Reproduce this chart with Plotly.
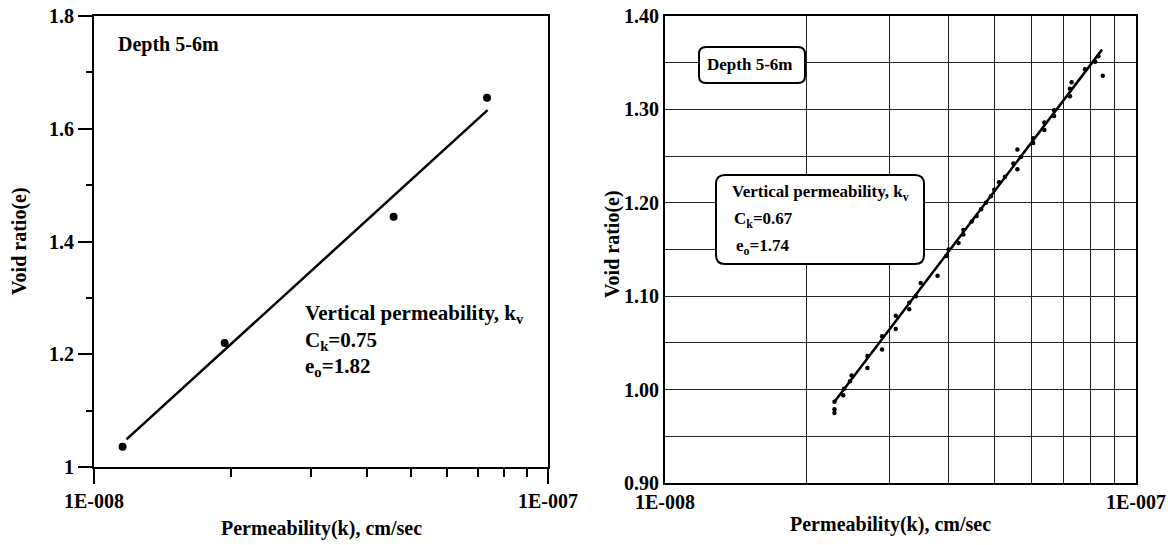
import plotly.graph_objects as go

W, H = 1176, 545

# ---------------- data ----------------
left_k = [1.156e-8, 1.94e-8, 4.57e-8, 7.34e-8]
left_e = [1.036, 1.220, 1.444, 1.655]
left_fit_k = [1.179e-8, 7.36e-8]
left_fit_e = [1.049, 1.633]

right_k = [2.29e-8, 2.29e-8, 2.29e-8, 2.39e-8, 2.40e-8, 2.49e-8, 2.47e-8, 2.69e-8, 2.69e-8,
           2.89e-8, 2.89e-8, 3.09e-8, 3.09e-8, 3.30e-8, 3.30e-8, 3.41e-8, 3.49e-8, 3.79e-8,
           3.96e-8, 4.00e-8, 4.20e-8, 4.30e-8, 4.30e-8, 4.48e-8, 4.59e-8, 4.69e-8, 4.80e-8,
           4.92e-8, 5.00e-8, 5.12e-8, 5.27e-8, 5.49e-8, 5.60e-8, 5.60e-8, 5.70e-8, 6.05e-8,
           6.05e-8, 6.39e-8, 6.39e-8, 6.70e-8, 6.70e-8, 7.24e-8, 7.24e-8, 7.30e-8, 7.79e-8,
           8.19e-8, 8.32e-8, 8.50e-8]
right_e = [0.987, 0.979, 0.975, 0.994, 1.001, 1.015, 1.009, 1.036, 1.023,
           1.057, 1.043, 1.079, 1.065, 1.093, 1.086, 1.100, 1.114, 1.122,
           1.143, 1.150, 1.157, 1.171, 1.166, 1.180, 1.186, 1.193, 1.200,
           1.207, 1.214, 1.222, 1.228, 1.242, 1.236, 1.257, 1.249, 1.269,
           1.264, 1.286, 1.278, 1.299, 1.293, 1.322, 1.314, 1.329, 1.343,
           1.351, 1.357, 1.336]
right_fit_k = [2.29e-8, 8.47e-8]
right_fit_e = [0.987, 1.364]

x_major = [1e-8, 1e-7]
x_major_text = ["1E-008", "1E-007"]
x_minor = [2e-8, 3e-8, 4e-8, 5e-8, 6e-8, 7e-8, 8e-8, 9e-8]
left_y_ticks = [1.0, 1.2, 1.4, 1.6, 1.8]
left_y_text = ["1", "1.2", "1.4", "1.6", "1.8"]
left_y_minor = [1.1, 1.3, 1.5, 1.7]
right_y_ticks = [0.9, 1.0, 1.1, 1.2, 1.3, 1.4]
right_y_text = ["0.90", "1.00", "1.10", "1.20", "1.30", "1.40"]
right_y_minor = [0.95, 1.05, 1.15, 1.25, 1.35]

FONT = "Liberation Serif"


def px(x):
    return x / W


def py(y):
    return 1 - y / H


fig = go.Figure()

fig.add_trace(go.Scatter(x=left_fit_k, y=left_fit_e, mode="lines",
                         line=dict(color="black", width=2.5), xaxis="x", yaxis="y",
                         showlegend=False))
fig.add_trace(go.Scatter(x=left_k, y=left_e, mode="markers",
                         marker=dict(color="black", size=8), xaxis="x", yaxis="y",
                         showlegend=False))
fig.add_trace(go.Scatter(x=right_fit_k, y=right_fit_e, mode="lines",
                         line=dict(color="black", width=2.5), xaxis="x2", yaxis="y2",
                         showlegend=False))
fig.add_trace(go.Scatter(x=right_k, y=right_e, mode="markers",
                         marker=dict(color="black", size=4.5), xaxis="x2", yaxis="y2",
                         showlegend=False))

tickfont = dict(family=FONT, size=20, color="black", weight="bold")
GRID = "#222222"

fig.update_layout(
    width=W, height=H,
    margin=dict(l=0, r=0, t=0, b=0, autoexpand=False),
    paper_bgcolor="white", plot_bgcolor="white",
    font=dict(family=FONT, color="black"),
    xaxis=dict(type="log", range=[-8, -7], domain=[px(94), px(548)], anchor="y",
               automargin=False,
               tickmode="array", tickvals=x_major, ticktext=x_major_text,
               ticks="outside", ticklen=15, tickwidth=2, tickcolor="black",
               showgrid=False, zeroline=False,
               showline=True, linecolor="black", linewidth=2, mirror=True,
               tickfont=tickfont,
               minor=dict(tickmode="array", tickvals=x_minor, ticks="outside",
                          ticklen=8, tickwidth=2, tickcolor="black", showgrid=False)),
    yaxis=dict(range=[1.0, 1.8], domain=[py(467), py(16)], anchor="x",
               automargin=False,
               tickmode="array", tickvals=left_y_ticks, ticktext=left_y_text,
               ticks="outside", ticklen=14, tickwidth=2, tickcolor="black",
               showgrid=False, zeroline=False,
               showline=True, linecolor="black", linewidth=2, mirror=True,
               tickfont=tickfont,
               minor=dict(tickmode="array", tickvals=left_y_minor, ticks="outside",
                          ticklen=6, tickwidth=2, tickcolor="black", showgrid=False)),
    xaxis2=dict(type="log", range=[-8, -7], domain=[px(665), px(1136)], anchor="y2",
                automargin=False,
                tickmode="array", tickvals=x_major, ticktext=x_major_text,
                ticks="", showgrid=False, zeroline=False,
                showline=True, linecolor="black", linewidth=2, mirror=True,
                tickfont=tickfont,
                minor=dict(tickmode="array", tickvals=x_minor, ticks="",
                           showgrid=True, gridcolor=GRID, gridwidth=1.2)),
    yaxis2=dict(range=[0.9, 1.4], domain=[py(483), py(16)], anchor="x2",
                automargin=False,
                tickmode="array", tickvals=right_y_ticks, ticktext=right_y_text,
                ticks="", showgrid=True, gridcolor=GRID, gridwidth=1.2,
                zeroline=False,
                showline=True, linecolor="black", linewidth=2, mirror=True,
                tickfont=tickfont,
                minor=dict(tickmode="array", tickvals=right_y_minor, ticks="",
                           showgrid=True, gridcolor=GRID, gridwidth=1.2)),
)


def rounded_rect(x0, y0, x1, y1, r):
    pts = [
        f"M {px(x0 + r)},{py(y0)}",
        f"L {px(x1 - r)},{py(y0)}",
        f"Q {px(x1)},{py(y0)} {px(x1)},{py(y0 + r)}",
        f"L {px(x1)},{py(y1 - r)}",
        f"Q {px(x1)},{py(y1)} {px(x1 - r)},{py(y1)}",
        f"L {px(x0 + r)},{py(y1)}",
        f"Q {px(x0)},{py(y1)} {px(x0)},{py(y1 - r)}",
        f"L {px(x0)},{py(y0 + r)}",
        f"Q {px(x0)},{py(y0)} {px(x0 + r)},{py(y0)}",
        "Z",
    ]
    return " ".join(pts)


fig.add_shape(type="path", xref="paper", yref="paper",
              path=rounded_rect(699, 47, 805, 83, 7),
              line=dict(color="black", width=2), fillcolor="white", layer="above")
fig.add_shape(type="path", xref="paper", yref="paper",
              path=rounded_rect(716, 175, 924, 264, 9),
              line=dict(color="black", width=2), fillcolor="white", layer="above")


def txt(x, y, s, size, anchor="left", angle=0):
    fig.add_annotation(x=px(x), y=py(y), xref="paper", yref="paper", text=s,
                       showarrow=False, xanchor=anchor, yanchor="middle",
                       textangle=angle,
                       font=dict(family=FONT, size=size, color="black", weight="bold"))


# left chart texts
txt(116, 45, "Depth 5-6m", 20)
txt(303, 314, "Vertical permeability, k<sub>v</sub>", 21)
txt(303, 341, "C<sub>k</sub>=0.75", 21)
txt(303, 367, "e<sub>o</sub>=1.82", 21)
txt(321, 528, "Permeability(k), cm/sec", 20, anchor="center")
txt(20, 241, "Void ratio(e)", 20, anchor="center", angle=-90)

# right chart texts
txt(705, 64, "Depth 5-6m", 17)
txt(730, 193, "Vertical permeability, k<sub>v</sub>", 17)
txt(732, 220, "C<sub>k</sub>=0.67", 17)
txt(734, 247, "e<sub>o</sub>=1.74", 17)
txt(890, 524, "Permeability(k), cm/sec", 20, anchor="center")
txt(612, 244, "Void ratio(e)", 20, anchor="center", angle=-90)

fig.write_html("out.html")
